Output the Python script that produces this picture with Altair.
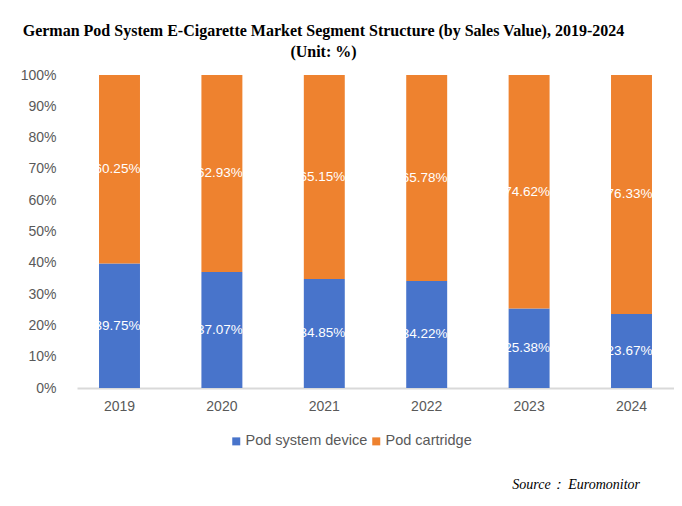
import altair as alt
import pandas as pd

years = ["2019", "2020", "2021", "2022", "2023", "2024"]
series_names = ["Pod system device", "Pod cartridge"]
device = [39.75, 37.07, 34.85, 34.22, 25.38, 23.67]
cartridge = [60.25, 62.93, 65.15, 65.78, 74.62, 76.33]
y_ticks = [0, 10, 20, 30, 40, 50, 60, 70, 80, 90, 100]
title_lines = [
    "German Pod System E-Cigarette Market Segment Structure (by Sales Value), 2019-2024",
    "(Unit: %)",
]
source_text = ["Source\uff1a Euromonitor"]

rows = []
for i, y in enumerate(years):
    rows.append({"year": y, "series": series_names[0], "value": device[i], "idx": 0})
    rows.append({"year": y, "series": series_names[1], "value": cartridge[i], "idx": 1})
df = pd.DataFrame(rows)

BLUE = "#4874cb"
ORANGE = "#ee822f"
GRAY = "#595959"
SANS = "Liberation Sans"
SERIF = "Liberation Serif"

base = alt.Chart(df).transform_stack(
    stack="value", groupby=["year"], as_=["v0", "v1"],
    sort=[alt.SortField("idx", order="ascending")]
).transform_calculate(
    mid="(datum.v0 + datum.v1) / 2",
    label="format(datum.value, '.2f') + '%'"
)

x_axis = alt.Axis(labelAngle=0, labelColor=GRAY, labelFont=SANS, labelFontSize=14,
                  ticks=False, domainColor="#d9d9d9", domainWidth=2,
                  labelPadding=11, grid=False)
x_scale = alt.Scale(paddingInner=0.6, paddingOuter=0.215)
y_axis = alt.Axis(values=y_ticks, tickCount=11, labelExpr="datum.value + '%'",
                  labelColor=GRAY, labelFont=SANS, labelFontSize=14,
                  labelOverlap=False, ticks=False, domain=False, grid=False,
                  labelPadding=21)
y_scale = alt.Scale(domain=[0, 100], nice=False)

bars = base.mark_bar().encode(
    x=alt.X("year:N", sort=years, title=None, scale=x_scale, axis=x_axis),
    y=alt.Y("v0:Q", title=None, scale=y_scale, axis=y_axis),
    y2="v1:Q",
    color=alt.Color("series:N", scale=alt.Scale(domain=series_names, range=[BLUE, ORANGE]),
                    legend=alt.Legend(title=None, orient="none", legendX=152, legendY=359,
                                      direction="horizontal", symbolType="square",
                                      symbolSize=64, symbolStrokeWidth=0,
                                      labelFont=SANS, labelFontSize=14.5, labelColor=GRAY,
                                      labelOffset=2, columnPadding=1)),
)

labels = base.mark_text(color="white", font=SANS, fontSize=13.5, dx=-2).encode(
    x=alt.X("year:N", sort=years, title=None, scale=x_scale, axis=x_axis),
    y=alt.Y("mid:Q", title=None, scale=y_scale, axis=y_axis),
    text="label:N",
)

source = alt.Chart(pd.DataFrame({"t": source_text})).mark_text(
    align="right", baseline="middle", font=SERIF, fontStyle="italic", fontSize=14, color="black"
).encode(x=alt.value(563), y=alt.value(410), text="t:N")

chart = alt.layer(bars, labels, source).properties(
    width=597, height=313,
    autosize=alt.AutoSizeParams(type="none"),
    padding={"left": 69, "top": 67, "right": 0, "bottom": 104},
    title=alt.TitleParams(text=title_lines, font=SERIF, fontSize=16, fontWeight="bold",
                          color="black", anchor="middle", dx=-52, offset=8, lineHeight=21),
).configure_view(stroke=None)

chart.save("out.html", embed_options={"renderer": "svg", "actions": False})
